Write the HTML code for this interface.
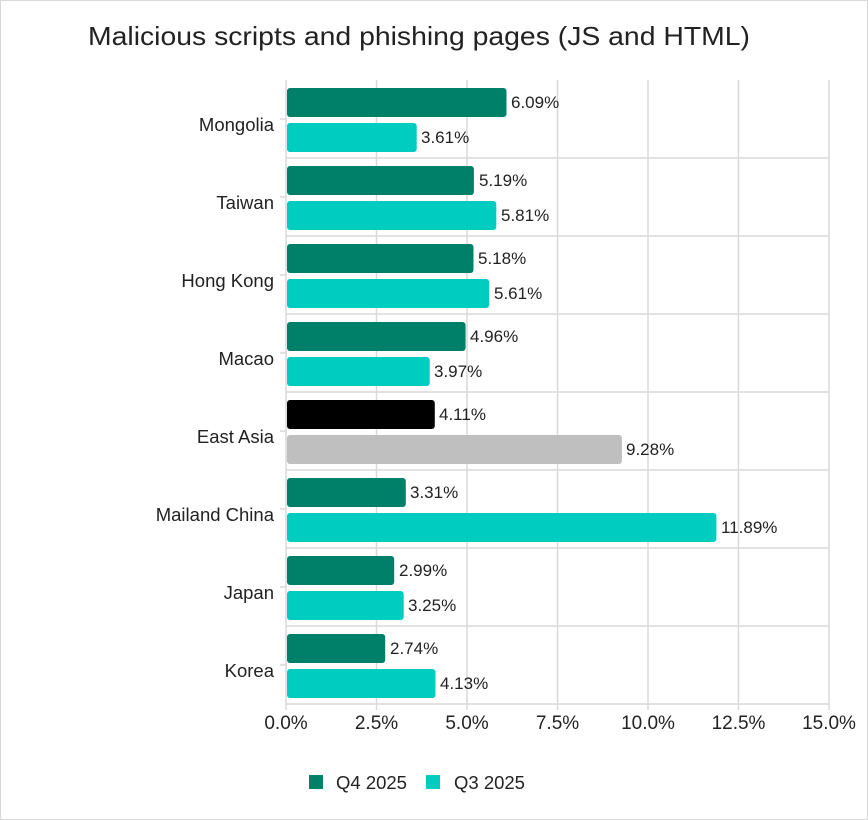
<!DOCTYPE html>
<html><head><meta charset="utf-8"><style>
html,body{margin:0;padding:0;background:#fff}
svg{display:block;font-family:"Liberation Sans",sans-serif}
</style></head><body>
<svg width="868" height="820" viewBox="0 0 868 820" xmlns="http://www.w3.org/2000/svg">
<rect x="0.5" y="0.5" width="867" height="819" fill="#fff" stroke="#d9d9d9"/>
<text x="88" y="45" font-size="26" fill="#222" textLength="662" lengthAdjust="spacingAndGlyphs">Malicious scripts and phishing pages (JS and HTML)</text>
<g stroke="#d9d9d9" stroke-width="1.5">
<line x1="376.5" y1="80" x2="376.5" y2="704"/>
<line x1="467" y1="80" x2="467" y2="704"/>
<line x1="557.5" y1="80" x2="557.5" y2="704"/>
<line x1="648" y1="80" x2="648" y2="704"/>
<line x1="738.5" y1="80" x2="738.5" y2="704"/>
<line x1="829" y1="80" x2="829" y2="704"/>
<line x1="286" y1="158" x2="829" y2="158"/>
<line x1="286" y1="236" x2="829" y2="236"/>
<line x1="286" y1="314" x2="829" y2="314"/>
<line x1="286" y1="392" x2="829" y2="392"/>
<line x1="286" y1="470" x2="829" y2="470"/>
<line x1="286" y1="548" x2="829" y2="548"/>
<line x1="286" y1="626" x2="829" y2="626"/>
<line x1="286" y1="80" x2="286" y2="704"/>
<line x1="286" y1="704" x2="829" y2="704"/>
<line x1="280" y1="119" x2="286" y2="119"/><line x1="280" y1="197" x2="286" y2="197"/>
<line x1="280" y1="275" x2="286" y2="275"/><line x1="280" y1="353" x2="286" y2="353"/>
<line x1="280" y1="431" x2="286" y2="431"/><line x1="280" y1="509" x2="286" y2="509"/>
<line x1="280" y1="587" x2="286" y2="587"/><line x1="280" y1="665" x2="286" y2="665"/>
<line x1="286" y1="704" x2="286" y2="710"/><line x1="376.5" y1="704" x2="376.5" y2="710"/>
<line x1="467" y1="704" x2="467" y2="710"/><line x1="557.5" y1="704" x2="557.5" y2="710"/>
<line x1="648" y1="704" x2="648" y2="710"/><line x1="738.5" y1="704" x2="738.5" y2="710"/>
<line x1="829" y1="704" x2="829" y2="710"/>
</g>
<g font-size="18.5" fill="#222" text-anchor="end">
<text x="274" y="131">Mongolia</text><text x="274" y="209">Taiwan</text>
<text x="274" y="287">Hong Kong</text><text x="274" y="365">Macao</text>
<text x="274" y="443">East Asia</text><text x="274" y="521">Mailand China</text>
<text x="274" y="599">Japan</text><text x="274" y="677">Korea</text>
</g>
<g font-size="19" fill="#222" text-anchor="middle">
<text x="286" y="729">0.0%</text><text x="376.5" y="729">2.5%</text><text x="467" y="729">5.0%</text>
<text x="557.5" y="729">7.5%</text><text x="648" y="729">10.0%</text><text x="738.5" y="729">12.5%</text>
<text x="829" y="729">15.0%</text>
</g>
<g>
<rect x="287" y="88" width="219.5" height="29" rx="3" fill="#008069"/>
<rect x="287" y="123" width="129.7" height="29" rx="3" fill="#00ccbf"/>
<rect x="287" y="166" width="186.9" height="29" rx="3" fill="#008069"/>
<rect x="287" y="201" width="209.3" height="29" rx="3" fill="#00ccbf"/>
<rect x="287" y="244" width="186.5" height="29" rx="3" fill="#008069"/>
<rect x="287" y="279" width="202.1" height="29" rx="3" fill="#00ccbf"/>
<rect x="287" y="322" width="178.6" height="29" rx="3" fill="#008069"/>
<rect x="287" y="357" width="142.7" height="29" rx="3" fill="#00ccbf"/>
<rect x="287" y="400" width="147.8" height="29" rx="3" fill="#000"/>
<rect x="287" y="435" width="334.9" height="29" rx="3" fill="#bfbfbf"/>
<rect x="287" y="478" width="118.8" height="29" rx="3" fill="#008069"/>
<rect x="287" y="513" width="429.4" height="29" rx="3" fill="#00ccbf"/>
<rect x="287" y="556" width="107.2" height="29" rx="3" fill="#008069"/>
<rect x="287" y="591" width="116.7" height="29" rx="3" fill="#00ccbf"/>
<rect x="287" y="634" width="98.2" height="29" rx="3" fill="#008069"/>
<rect x="287" y="669" width="148.5" height="29" rx="3" fill="#00ccbf"/>
</g>
<g font-size="17" fill="#222">
<text x="511" y="108">6.09%</text><text x="421" y="143">3.61%</text>
<text x="479" y="186">5.19%</text><text x="501" y="221">5.81%</text>
<text x="478" y="264">5.18%</text><text x="494" y="299">5.61%</text>
<text x="470" y="342">4.96%</text><text x="434" y="377">3.97%</text>
<text x="439" y="420">4.11%</text><text x="626" y="455">9.28%</text>
<text x="410" y="498">3.31%</text><text x="721" y="533">11.89%</text>
<text x="399" y="576">2.99%</text><text x="408" y="611">3.25%</text>
<text x="390" y="654">2.74%</text><text x="440" y="689">4.13%</text>
</g>
<rect x="309" y="775" width="14" height="14" fill="#008069"/>
<text x="336" y="789" font-size="18.5" fill="#222">Q4 2025</text>
<rect x="426" y="775" width="14" height="14" fill="#00ccbf"/>
<text x="454" y="789" font-size="18.5" fill="#222">Q3 2025</text>
</svg>
</body></html>
